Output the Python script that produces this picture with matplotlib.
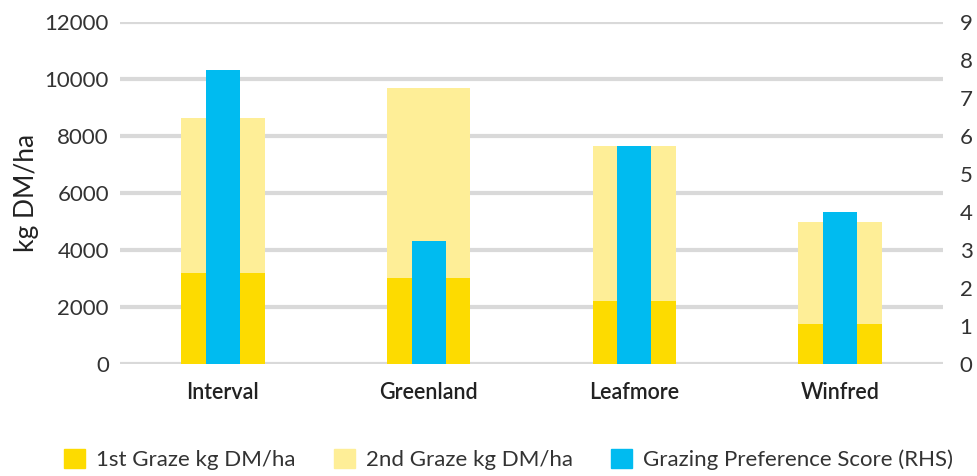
import numpy as np
import matplotlib.pyplot as plt
from matplotlib.patches import Patch

plt.rcParams['font.family'] = ['Lato', 'DejaVu Sans']

varieties = ['Interval', 'Greenland', 'Leafmore', 'Winfred']
graze1 = [3200, 3030, 2210, 1400]
graze_total = [8630, 9680, 7650, 4980]
graze2 = [t - a for t, a in zip(graze_total, graze1)]
preference = [7.75, 3.25, 5.75, 4.0]

c1 = '#fddb00'
c2 = '#feee97'
c3 = '#00bbf0'
txt = '#222222'

fig = plt.figure(figsize=(9.78, 4.76), dpi=100)
ax = fig.add_axes([0.1227, 0.235, 0.8415, 0.718])
ax2 = ax.twinx()

x = np.arange(len(varieties))
ax.bar(x, graze1, width=0.405, color=c1, zorder=2)
ax.bar(x, graze2, bottom=graze1, width=0.405, color=c2, zorder=2)
ax2.bar(x, preference, width=0.165, color=c3)

ax.set_ylim(0, 12000)
ax.set_yticks(range(0, 12001, 2000))
ax2.set_ylim(0, 9)
ax2.set_yticks(range(0, 10))
ax.set_xlim(-0.5, 3.5)
ax.set_xticks(x)
ax.set_xticklabels(varieties, fontsize=15.5, color=txt, fontweight='semibold')

ax.set_axisbelow(True)
ax.yaxis.grid(True, color='#d9d9d9', linewidth=3)
for a in (ax, ax2):
    for s in a.spines.values():
        s.set_visible(False)
    a.tick_params(axis='y', length=0, labelsize=16, colors='#333333')
ax.tick_params(axis='x', length=0, pad=13)
ax.tick_params(axis='y', pad=8)
ax2.tick_params(axis='y', pad=12)
ax.set_ylabel('kg DM/ha', fontsize=19, color=txt, labelpad=4)

handles = [Patch(color=c1), Patch(color=c2), Patch(color=c3)]
labels = ['1st Graze kg DM/ha', '2nd Graze kg DM/ha', 'Grazing Preference Score (RHS)']
leg = fig.legend(handles, labels, loc='center', bbox_to_anchor=(0.52, 0.035), ncol=3,
                 frameon=False, fontsize=16, handlelength=0.95, handleheight=1.0,
                 columnspacing=1.7, handletextpad=0.5)
for t in leg.get_texts():
    t.set_color('#333333')

fig.savefig('out.png', dpi=100)
